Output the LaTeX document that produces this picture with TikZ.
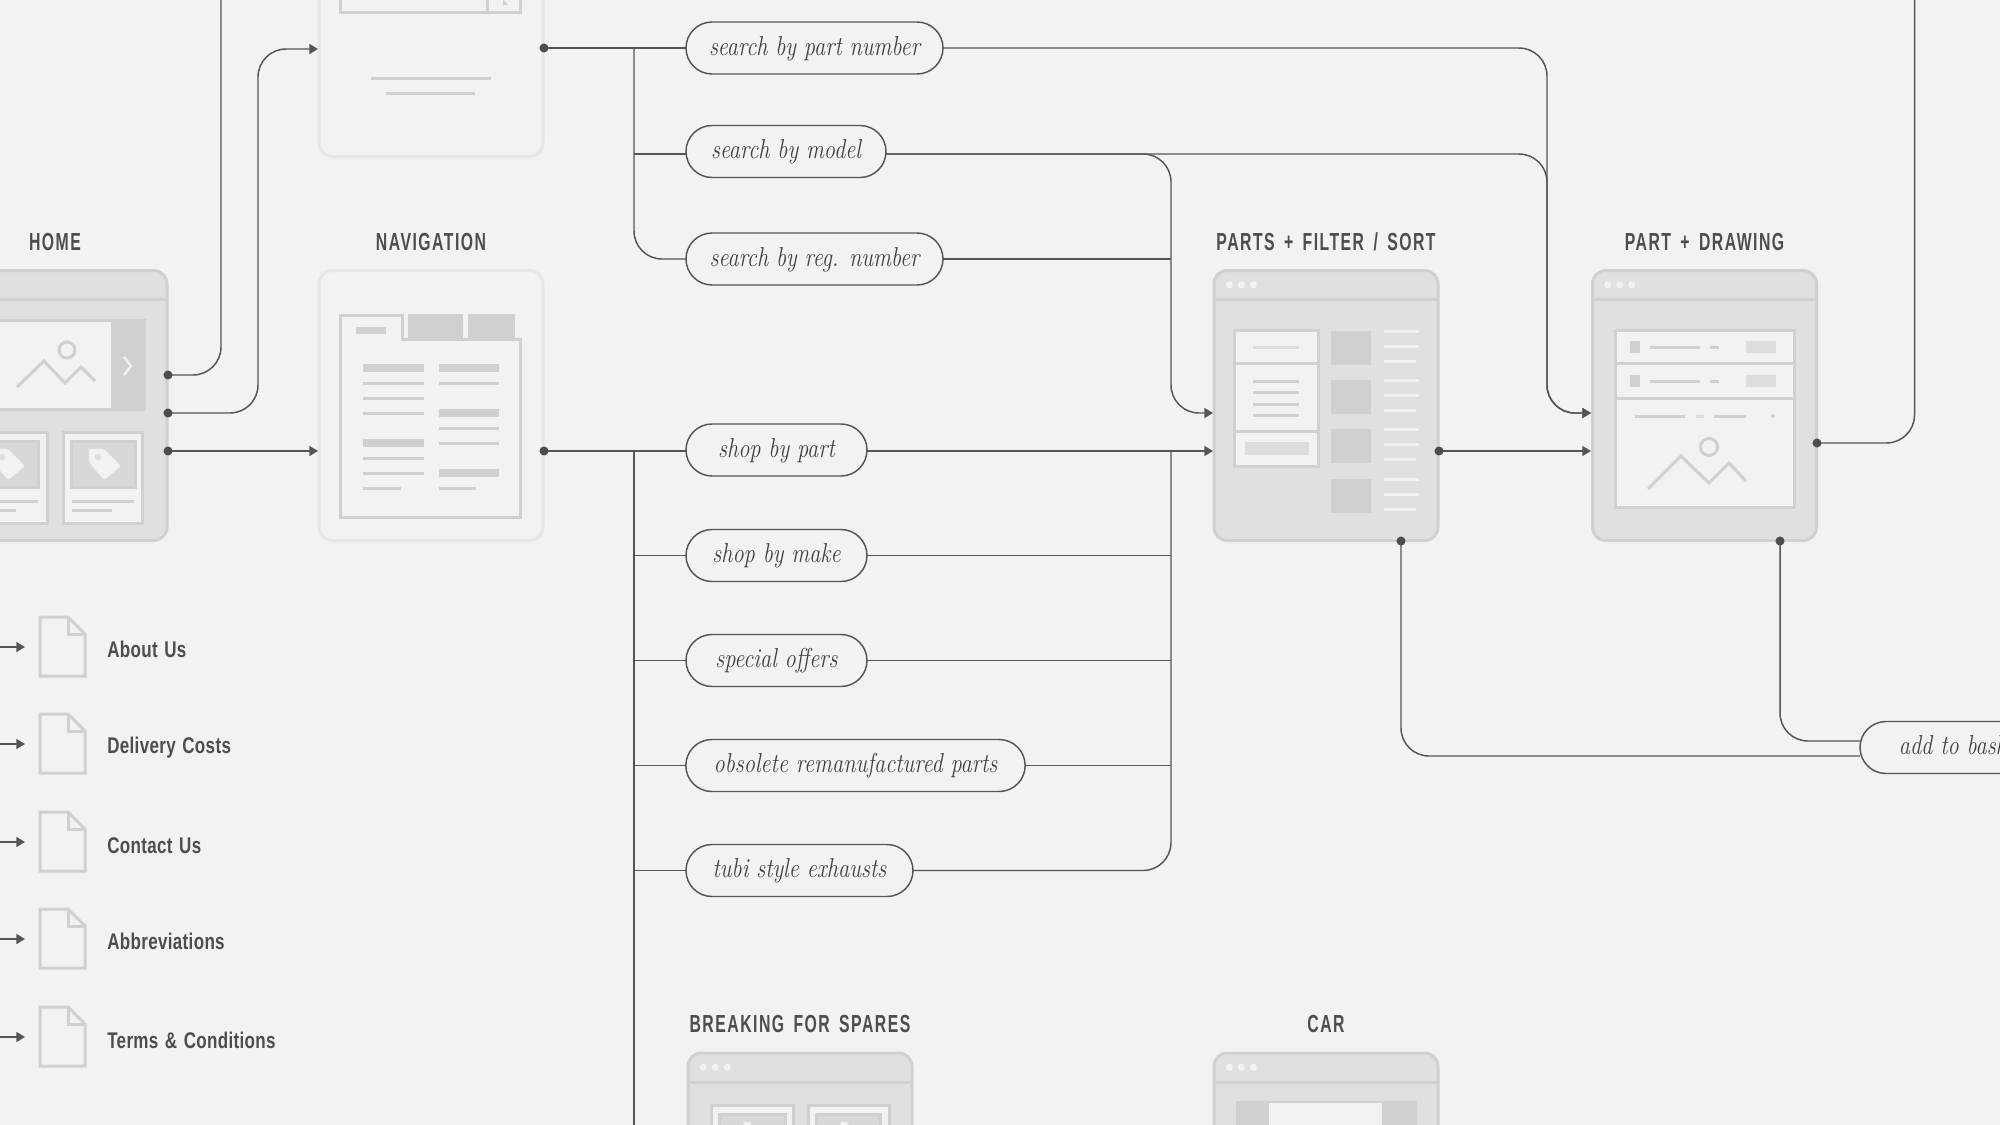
\documentclass[tikz,border=0pt]{standalone}
\usepackage{fontspec}
\usetikzlibrary{arrows.meta}
\newfontfamily\headfont[FakeStretch=0.64,LetterSpace=6,WordSpace=1.6]{Liberation Sans}
\newfontfamily\itemfont[FakeStretch=0.75,LetterSpace=1.5,WordSpace=1.3]{Liberation Sans}
\newfontfamily\pillfont[FakeStretch=0.82]{Latin Modern Roman}
\definecolor{pagebg}{HTML}{F2F2F2}
\definecolor{winfill}{HTML}{E0E0E0}
\definecolor{winedge}{HTML}{D0D0D0}
\definecolor{navedge}{HTML}{E6E6E6}
\definecolor{ink}{HTML}{4D4D4D}
\definecolor{pilltext}{HTML}{404040}
\definecolor{wire}{HTML}{555555}
\definecolor{softgrey}{HTML}{DDDDDD}
\tikzset{
  window/.style={draw=winedge, fill=winfill, line width=2.25pt, rounded corners=10pt,
    minimum width=168pt, minimum height=202.5pt, inner sep=0pt, outer sep=0pt},
  navwindow/.style={window, draw=navedge, fill=pagebg},
  title/.style={font=\headfont\bfseries\fontsize{18.5}{20}\selectfont, text=ink, anchor=base},
  itemtext/.style={font=\itemfont\bfseries\fontsize{17}{19}\selectfont, text=ink, anchor=base west, inner sep=0pt},
  pill/.style={draw=wire, fill=pagebg, line width=1.1pt, rounded corners=19.5pt, minimum height=39pt,
    inner sep=0pt, outer sep=0pt, text=pilltext, text height=14pt, text depth=3.5pt,
    font=\pillfont\itshape\fontsize{20.5}{22}\selectfont},
  wiring/.style={draw=wire, line width=1.1pt, rounded corners=21pt},
  flow/.style={wiring, -{Triangle[length=6.5pt,width=7.5pt]}},
  hline/.style={draw=winedge, line width=2.25pt},
  panel/.style={draw=winedge, fill=pagebg, line width=2.25pt},
  picbox/.style={draw=winedge, fill=softgrey!60!winedge, line width=2.25pt},
  whiteline/.style={draw=pagebg, line width=2.25pt},
  doc/.style={draw=winedge, line width=2.25pt, fill=pagebg}
}
\newcommand{\dotat}[1]{\fill[ink] (#1) circle[radius=3.4pt];}
\newcommand{\tagicon}[2]{% tag at x offset, y offset
  \fill[pagebg,rounded corners=1.5pt,shift={(#1,#2)}] (89,449)--(104,449)--(121,466)--(104,480)--(89,462)--cycle;
  \fill[softgrey,shift={(#1,#2)}] (98,457) circle[radius=2.5pt];}
\begin{document}
\begin{tikzpicture}[x=0.75pt,y=-0.75pt]
  \useasboundingbox (0,0) rectangle (2000,1125);
  \clip (0,0) rectangle (2000,1125);
  \fill[pagebg] (0,0) rectangle (2000,1125);

  % windows
  \node[window] (home) at (55,405.5) {};
  \node[navwindow] (nav) at (431,405.5) {};
  \node[navwindow] (search) at (431,21.5) {};
  \node[window] (parts) at (1326,405.5) {};
  \node[window] (drawing) at (1704.5,405.5) {};
  \node[window] (breaking) at (800,1188) {};
  \node[window] (car) at (1326,1188) {};

  \foreach \win in {home,parts,drawing,breaking,car}{
    \draw[hline] ([yshift=-21.75pt]\win.north west) -- ([yshift=-21.75pt]\win.north east);
    \foreach \dx in {11.5,20.5,29.5}
      \fill[pagebg] ([xshift=\dx pt,yshift=-10.75pt]\win.north west) circle[radius=2.7pt];
  }

  % titles
  \node[title] (hometitle) at (55,250) {HOME};
  \node[title] (navtitle) at (431,250) {NAVIGATION};
  \node[title] (partstitle) at (1326,250) {PARTS + FILTER / SORT};
  \node[title] (drawingtitle) at (1704.5,250) {PART + DRAWING};
  \node[title] (breakingtitle) at (800,1032) {BREAKING FOR SPARES};
  \node[title] (cartitle) at (1326,1032) {CAR};

  % home contents
  \fill[winedge] (-30,319) rectangle (146,411);
  \fill[pagebg] (-30,322) rectangle (111,408);
  \draw[pagebg,line width=1.9pt] (124,357)--(131,366)--(124,375); % chevron
  \draw[winedge,line width=2.25pt] (17,387)--(44,361)--(65,383)--(81,367)--(95,381);
  \draw[winedge,line width=2.25pt] (67,350) circle[radius=6pt];
  \draw[panel] (-33,432) rectangle (47,523);
  \draw[panel] (63,432) rectangle (142.5,523);
  \draw[picbox] (-26,441) rectangle (38,487);
  \draw[picbox] (71,441) rectangle (135,487);
  \tagicon{-96}{0}
  \tagicon{0}{0}
  \draw[hline] (-24,501)--(38,501) (-24,510)--(16,510);
  \draw[hline] (72,501)--(134,501) (72,510)--(112,510);

  % navigation contents
  \draw[hline] (340,315)--(402,315)--(402,339)--(520,339)--(520,517)--(340,517)--cycle;
  \fill[winedge] (408,314) rectangle (463,339);
  \fill[winedge] (468,314) rectangle (515,339);
  \fill[winedge] (356,327) rectangle (386,334);
  \foreach \y in {364,439} \fill[winedge] (363,\y) rectangle (424,\y+8);
  \foreach \y in {364,409,469} \fill[winedge] (439,\y) rectangle (499,\y+8);
  \foreach \y in {383,398,413,458,473} \draw[hline] (363,\y)--(424,\y);
  \foreach \y in {383,428,443} \draw[hline] (439,\y)--(499,\y);
  \draw[hline] (363,488)--(401,488);
  \draw[hline] (439,488)--(476,488);

  % search contents
  \draw[hline] (340.5,-20) rectangle (520,12);
  \draw[hline] (487,-20)--(487,12);
  \fill[winedge] (503,-1)--(508,5)--(503,5)--cycle;
  \draw[hline] (371,78)--(491,78);
  \draw[hline] (386,93)--(475,93);

  % parts contents
  \draw[panel] (1234,330) rectangle (1318,466);
  \draw[hline] (1234,363)--(1318,363);
  \draw[hline] (1234,431)--(1318,431);
  \draw[softgrey,line width=2.25pt] (1253,347)--(1299,347);
  \foreach \y in {381,392,404,415} \draw[hline] (1253,\y)--(1299,\y);
  \fill[softgrey] (1245,442) rectangle (1309,455);
  \foreach \y in {331,380,429,479}{
    \fill[winedge] (1331,\y) rectangle (1371,\y+34);
    \draw[whiteline] (1384,\y)--(1419,\y);
    \draw[whiteline] (1384,\y+15)--(1419,\y+15);
    \draw[whiteline] (1384,\y+30)--(1416,\y+30);
  }

  % drawing contents
  \draw[panel] (1615,330) rectangle (1794,507);
  \draw[hline] (1615,363)--(1794,363);
  \draw[hline] (1615,398)--(1794,398);
  \foreach \y in {341,375}{
    \fill[winedge] (1630,\y) rectangle (1640,\y+12);
    \draw[hline] (1650,\y+6)--(1700,\y+6);
    \draw[hline] (1710,\y+6)--(1719,\y+6);
    \fill[softgrey] (1746,\y) rectangle (1776,\y+12);
  }
  \draw[hline] (1635,416)--(1685,416);
  \draw[softgrey,line width=2.25pt] (1696,416)--(1704,416);
  \draw[hline] (1714,416)--(1746,416);
  \fill[winedge] (1773,416) circle[radius=1.5pt];
  \draw[winedge,line width=2.25pt] (1648,489)--(1681,456)--(1709,483)--(1729,463)--(1746,481);
  \draw[winedge,line width=2.25pt] (1709,447) circle[radius=6.4pt];

  % breaking contents
  \draw[panel] (711,1105) rectangle (793,1140);
  \draw[panel] (808,1105) rectangle (889,1140);
  \draw[picbox] (719,1114) rectangle (785,1140);
  \draw[picbox] (816,1114) rectangle (880,1140);
  \fill[pagebg] (742,1130)--(744,1122)--(750,1122)--(754,1130)--cycle;
  \fill[pagebg] (839,1130)--(841,1122)--(847,1122)--(851,1130)--cycle;

  % car contents
  \fill[winedge] (1236,1101) rectangle (1417,1130);
  \fill[pagebg] (1269,1103) rectangle (1382,1130);

  % pages
  \foreach \y/\name/\base [count=\i] in {617/About Us/657, 714/Delivery Costs/753, 812/Contact Us/853, 909/Abbreviations/949, 1007/Terms \& Conditions/1048}{
    \node[itemtext] (item\i) at (107,\base) {\name};
    \draw[doc] (40,\y)--(68,\y)--(85,\y+17)--(85,\y+59)--(40,\y+59)--cycle;
    \draw[doc,fill=none] (68,\y)--(68,\y+17)--(85,\y+17);
    \coordinate (page\i) at (25,\y+30);
    \coordinate (pagein\i) at (0,\y+30);
    \draw[flow] (pagein\i) -- (page\i);
  }

  % pills
  \node[pill,minimum width=192.75pt] (number) at (814.5,48) {search by part number};
  \node[pill,minimum width=150pt] (model) at (786,151.5) {search by model};
  \node[pill,minimum width=192.75pt] (reg) at (814.5,259) {search by reg. number};
  \node[pill,minimum width=135.75pt] (shoppart) at (776.5,450) {shop by part};
  \node[pill,minimum width=135.75pt] (shopmake) at (776.5,555.5) {shop by make};
  \node[pill,minimum width=135.75pt] (offers) at (776.5,660.5) {special offers};
  \node[pill,minimum width=254.5pt] (obsolete) at (855.5,765.5) {obsolete remanufactured parts};
  \node[pill,minimum width=170.25pt] (tubi) at (799.5,870.5) {tubi style exhausts};
  \node[pill,minimum width=151.5pt] (basket) at (1961,747.5) {add to basket};

  % free ends and bends
  \coordinate (homeA) at (168,375);
  \coordinate (homeB) at (168,413);
  \coordinate (homeC) at (168,451);
  \coordinate (navout) at (544,451);
  \coordinate (searchout) at (544,48);
  \coordinate (topA) at (221,-5);
  \coordinate (topB) at (1914.5,-5);
  \coordinate (partsout) at (1439,451);
  \coordinate (partsdown) at (1401,541);
  \coordinate (drawout) at (1817,443);
  \coordinate (drawdown) at (1780,541);
  \coordinate (spineA) at (634,48);
  \coordinate (spineB) at (634,451);
  \coordinate (bottom) at (634,1130);
  \coordinate (busA) at (1171,413);
  \coordinate (busB) at (1547,413);

  % connectors
  \draw[wiring] (homeA) -| (topA);
  \draw[flow] (homeB) -| (258,49) -- (318,49);
  \draw[flow] (homeC) -- (318,451);
  \draw[wiring] (searchout) -- (number.west);
  \draw[wiring] (spineA) |- (reg.west);
  \draw[wiring] (634,154) -- (model.west |- 0,154);
  \draw[wiring] (navout) -- (shoppart.west |- navout);
  \draw[wiring] (spineB) -- (bottom);
  \draw[wiring] (634,555.5) -- (shopmake.west);
  \draw[wiring] (634,660.5) -- (offers.west);
  \draw[wiring] (634,765.5) -- (obsolete.west);
  \draw[wiring] (634,870.5) -- (tubi.west);

  \draw[flow] (number.east) -| (busB) -- (1591,413);
  \draw[flow] (model.east |- 0,154) -| (busB) -- (1591,413);
  \draw[flow] (model.east |- 0,154) -| (busA) -- (1213,413);
  \draw[wiring] (reg.east) -- (1171,259);
  \draw[flow] (shoppart.east |- navout) -- (1213,451);
  \draw[wiring] (tubi.east) -| (1171,451);
  \draw[wiring] (shopmake.east) -- (1171,555.5);
  \draw[wiring] (offers.east) -- (1171,660.5);
  \draw[wiring] (obsolete.east) -- (1171,765.5);
  \draw[flow] (partsout) -- (1591,451);
  \draw[wiring] (drawout) -| (topB);
  \draw[wiring] (drawdown) |- (basket.west |- 0,741);
  \draw[wiring] (partsdown) |- (basket.west |- 0,756);

  % dots
  \foreach \d in {homeA,homeB,homeC,navout,searchout,partsout,partsdown,drawout,drawdown} {\dotat{\d}}
\end{tikzpicture}
\end{document}
